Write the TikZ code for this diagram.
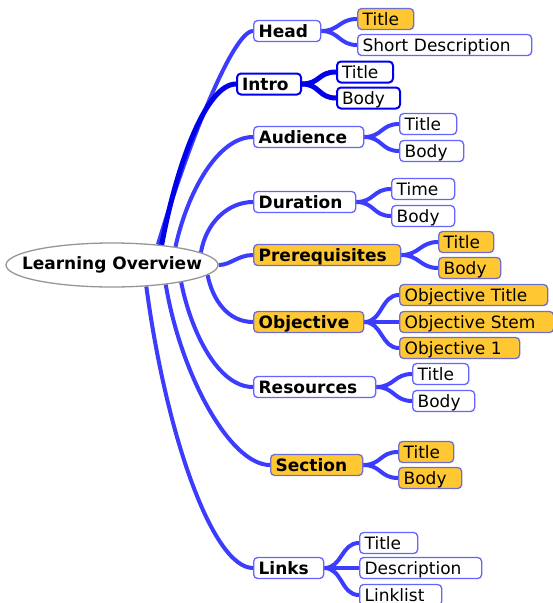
\documentclass[tikz,border=0pt]{standalone}
\usepackage{fontspec}
\setmainfont{DejaVu Sans}
\usetikzlibrary{shapes.geometric,backgrounds}
\definecolor{edgeblue}{RGB}{60,60,255}
\definecolor{introblue}{RGB}{0,0,235}
\definecolor{nodeborder}{RGB}{100,100,255}
\definecolor{hlfill}{RGB}{255,200,50}
\definecolor{hlborder}{RGB}{110,110,210}
\definecolor{rootborder}{RGB}{150,150,150}
\tikzset{
  box/.style={draw=nodeborder, line width=1.3pt, rounded corners=4pt, fill=white,
    inner xsep=5pt, inner ysep=2.5pt, text height=14pt, text depth=2pt,
    anchor=west, align=left, font=\fontsize{17}{17}\selectfont},
  branch/.style={box, font=\fontsize{17}{17}\selectfont\bfseries},
  leaf/.style={box},
  hl/.style={fill=hlfill, draw=hlborder},
  sel/.style={draw=introblue, line width=2pt},
  tw/.style={text width=#1pt},
  link/.style={draw=edgeblue, line width=4pt},
  sellink/.style={draw=introblue, line width=5pt},
  rootnode/.style={ellipse, draw=rootborder, line width=1.3pt, fill=white,
    minimum width=212pt, minimum height=44pt, inner xsep=-15pt, inner ysep=0pt,
    font=\fontsize{17}{17}\selectfont\bfseries},
}
\begin{document}
\begin{tikzpicture}[x=1pt,y=-1pt]
\useasboundingbox (0,0) rectangle (553,603);
\node[rootnode] (root) at (112,265) {Learning Overview};
% branches
\node[branch, tw=57] (head) at (253,31) {Head};
\node[branch, sel, tw=54] (intro) at (236,84) {Intro};
\node[branch, tw=100] (aud) at (253,137) {Audience};
\node[branch, tw=92] (dur) at (253,202) {Duration};
\node[branch, hl, tw=137] (pre) at (253,255) {Prerequisites};
\node[branch, hl, tw=100] (obj) at (253,322) {Objective};
\node[branch, tw=112] (res) at (253,387) {Resources};
\node[branch, hl, tw=82] (sec) at (270,465) {Section};
\node[branch, tw=60] (links) at (253,568) {Links};
% leaves
\node[leaf, hl, tw=46] (headT) at (357,19) {Title};
\node[leaf, tw=164] (headS) at (357,45) {Short Description};
\node[leaf, sel, tw=46] (introT) at (336,72) {Title};
\node[leaf, sel, tw=53] (introB) at (336,98) {Body};
\node[leaf, tw=47] (audT) at (399,124) {Title};
\node[leaf, tw=54] (audB) at (399,151) {Body};
\node[leaf, tw=53] (durT) at (391,189) {Time};
\node[leaf, tw=53] (durB) at (391,216) {Body};
\node[leaf, hl, tw=45] (preT) at (438,242) {Title};
\node[leaf, hl, tw=52] (preB) at (438,268) {Body};
\node[leaf, hl, tw=138] (objT) at (399,295) {Objective Title};
\node[leaf, hl, tw=144] (objS) at (399,322) {Objective Stem};
\node[leaf, hl, tw=110] (obj1) at (399,348) {Objective 1};
\node[leaf, tw=46] (resT) at (412,374) {Title};
\node[leaf, tw=52] (resB) at (412,401) {Body};
\node[leaf, hl, tw=45] (secT) at (398,452) {Title};
\node[leaf, hl, tw=53] (secB) at (398,478) {Body};
\node[leaf, tw=48] (lnkT) at (359,543) {Title};
\node[leaf, tw=112] (lnkD) at (359,568) {Description};
\node[leaf, tw=72] (lnkL) at (359,595) {Linklist};
\begin{scope}[on background layer]
  \draw[link] (root.24) .. controls +(30,-100) and +(-20,0) .. (head.west);
  \draw[sellink] (root.22) .. controls +(15,-80) and +(-30,0) .. (intro.west);
  \draw[link] (root.16) .. controls +(12,-55) and +(-35,0) .. (aud.west);
  \draw[link] (root.8) .. controls +(5,-30) and +(-25,0) .. (dur.west);
  \draw[link] (root.east) .. controls +(12,0) and +(-15,0) .. (pre.west);
  \draw[link] (root.-6) .. controls +(5,25) and +(-25,0) .. (obj.west);
  \draw[link] (root.-14) .. controls +(10,50) and +(-35,0) .. (res.west);
  \draw[link] (root.-20) .. controls +(15,90) and +(-40,0) .. (sec.west);
  \draw[link] (root.-32) .. controls +(20,150) and +(-40,0) .. (links.west);
  % children
  \foreach \p/\c in {head/headT, head/headS, aud/audT, aud/audB, dur/durT, dur/durB,
      pre/preT, pre/preB, obj/objT, obj/objS, obj/obj1, res/resT, res/resB,
      sec/secT, sec/secB, links/lnkT, links/lnkD, links/lnkL}
    \draw[link] (\p.east) .. controls +(18,0) and +(-18,0) .. (\c.west);
  \foreach \c in {introT, introB}
    \draw[sellink] (intro.east) .. controls +(18,0) and +(-18,0) .. (\c.west);
\end{scope}
\end{tikzpicture}
\end{document}
